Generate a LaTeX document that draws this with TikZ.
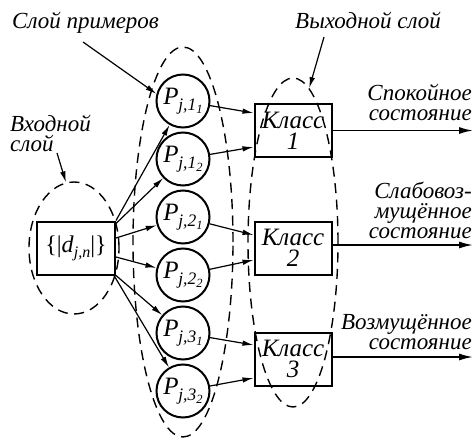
\documentclass[tikz,border=0pt]{standalone}
\usepackage{fontspec}
\setmainfont{Liberation Serif}[ItalicFont={Liberation Serif Italic}]
\usetikzlibrary{arrows.meta,shapes.geometric}
\newcommand\plab[2]{P\kern-0.5pt\raisebox{-5.5pt}{\fontsize{17.5}{17.5}\selectfont j,#1\raisebox{-3.5pt}{\fontsize{12.5}{12.5}\selectfont #2}}}
\begin{document}
\begin{tikzpicture}[x=1pt,y=-1pt,
  every node/.style={font=\fontsize{23}{20}\selectfont\itshape},
  arr/.style={-{Latex[length=11pt,width=5.5pt]}, line width=1.2pt},
  outarr/.style={-{Latex[length=14pt,width=7pt]}, line width=1.6pt},
  neuron/.style={circle, draw, line width=2pt, minimum size=53pt, inner sep=0pt, font=\fontsize{25}{25}\selectfont\itshape},
  cls/.style={rectangle, draw, line width=2pt, minimum width=77pt, minimum height=53pt, inner sep=0pt, align=center, font=\fontsize{25}{21}\selectfont\itshape},
  inbox/.style={rectangle, draw, line width=2pt, minimum width=78pt, minimum height=53pt, inner sep=0pt, font=\fontsize{24}{24}\selectfont\upshape},
  layer/.style={ellipse, draw, dash pattern=on 10pt off 6.5pt, line width=1.4pt, inner sep=0pt},
  lbl/.style={inner sep=0pt}
]
\useasboundingbox (0,0) rectangle (474,441);

% dashed layer outlines
\node[layer, minimum width=90pt, minimum height=132pt] (inell) at (74,248) {};
\node[layer, minimum width=100pt, minimum height=390pt] (exell) at (183,242) {};
\node[layer, minimum width=90pt, minimum height=329pt] (outell) at (293,242.5) {};

% input
\node[inbox] (in) at (76,248) {\{|\textit{d}\raisebox{-5pt}{\fontsize{16}{16}\selectfont\textit{j,n}}|\}};

% example layer
\node[neuron] (p11) at (183,101) {\plab{1}{1}};
\node[neuron] (p12) at (183,159) {\plab{1}{2}};
\node[neuron] (p21) at (183,217) {\plab{2}{1}};
\node[neuron] (p22) at (183,275) {\plab{2}{2}};
\node[neuron] (p31) at (183,333) {\plab{3}{1}};
\node[neuron] (p32) at (183,391) {\plab{3}{2}};

% output layer
\node[cls] (c1) at (293,130.5) {Класс\\1};
\node[cls] (c2) at (293,248) {Класс\\2};
\node[cls] (c3) at (293,359) {Класс\\3};

% input -> examples
\draw[arr] (in.north east) -- (p11);
\draw[arr] ([yshift=-3pt]in.north east) -- (p12);
\draw[arr] ([yshift=10pt]in.east) -- (p21);
\draw[arr] ([yshift=-9pt]in.east) -- (p22);
\draw[arr] (in.south east) -- (p31);
\draw[arr] ([xshift=-2pt]in.south east) -- (p32);

% examples -> classes
\draw[arr] (p11) -- ([yshift=17.5pt]c1.west);
\draw[arr] (p12) -- ([yshift=-16.5pt]c1.west);
\draw[arr] (p21) -- ([yshift=13pt]c2.west);
\draw[arr] (p22) -- ([yshift=-12pt]c2.west);
\draw[arr] (p31) -- ([yshift=14pt]c3.west);
\draw[arr] (p32) -- ([yshift=-19pt]c3.west);

% outputs
\coordinate (o1) at (473,130.5);
\coordinate (o2) at (473,245);
\coordinate (o3) at (473,357);
\draw[outarr] (c1) -- (o1);
\draw[outarr] ([yshift=3pt]c2.east) -- (o2);
\draw[outarr] ([yshift=2pt]c3.east) -- (o3);

\node[lbl, anchor=north east, align=right] (t1) at (472,84) {Спокойное\\состояние};
\node[lbl, anchor=north east, align=right] (t2) at (472,182) {Слабовоз-\\мущённое\\состояние};
\node[lbl, anchor=north east, align=right] (t3) at (472,314) {Возмущённое\\состояние};

% layer labels
\node[lbl, anchor=base west] (l1) at (12,29) {Слой примеров};
\node[lbl, anchor=base west] (l2) at (295,29) {Выходной слой};
\node[lbl, anchor=north west, align=left] (l3) at (10,115) {Входной\\слой};

\coordinate (a1) at (83,42);
\coordinate (a2) at (324,37);
\coordinate (a3) at (57,153);
\draw[arr] (a1) -- (p11.165);
\draw[arr] (a2) -- (outell.84);
\draw[arr] (a3) -- (inell.97);
\end{tikzpicture}
\end{document}
